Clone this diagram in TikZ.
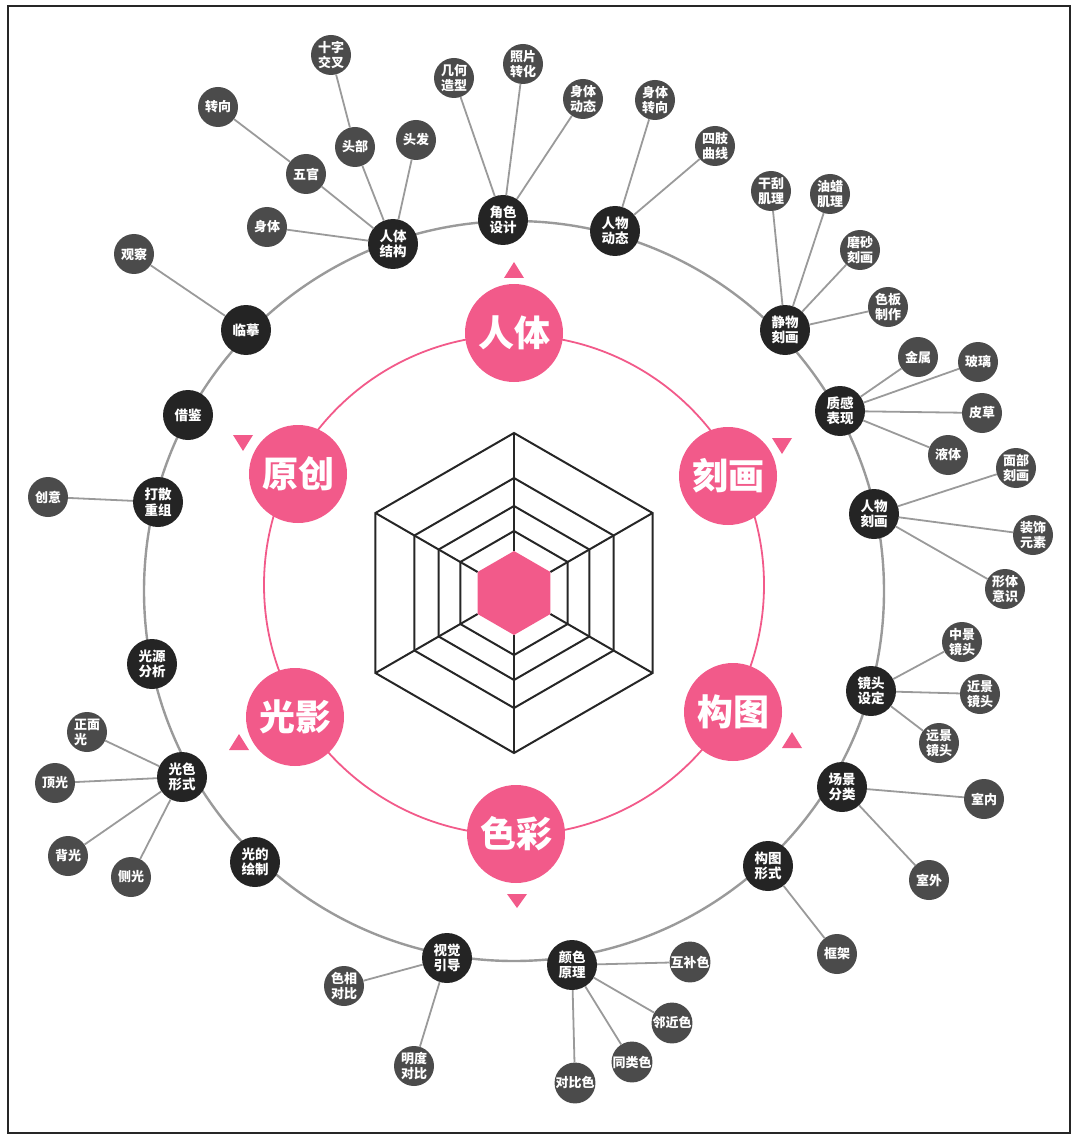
\documentclass[tikz,border=0pt]{standalone}
\usepackage{fontspec}
\newfontfamily\cjk{Noto Sans CJK SC}
\definecolor{rosy}{HTML}{F25A8A}
\definecolor{hubfill}{HTML}{242424}
\definecolor{leaffill}{HTML}{4B4B4B}
\definecolor{wire}{HTML}{9A9A9A}
\tikzset{
  topic/.style={circle,fill=rosy,minimum size=98pt,inner sep=0pt,text=white,
    font=\cjk\bfseries\fontsize{36}{40}\selectfont},
  hub/.style={circle,fill=hubfill,minimum size=50pt,inner sep=0pt,text=white,
    align=center,font=\cjk\bfseries\fontsize{13.5}{15.5}\selectfont},
  leaf/.style={circle,fill=leaffill,minimum size=40pt,inner sep=0pt,text=white,
    align=center,font=\cjk\bfseries\fontsize{13}{15}\selectfont},
  link/.style={wire,line width=1.8pt},
  web/.style={black!85,line width=2pt,line join=miter},
}
\begin{document}
\begin{tikzpicture}[x=1pt,y=-1pt]
  \useasboundingbox (0,0) rectangle (1080,1139);
  \draw[line width=2pt,black!85] (8,6) rectangle (1070,1133);

  % rings
  \draw[wire,line width=2.4pt] (514,591) circle (370);
  \draw[rosy,line width=1.8pt] (514,585) circle (250);

  % hexagon web
  \begin{scope}[shift={(514,593)}]
    \foreach \r in {160,115,87,62}
      \draw[web] (90:\r) -- (30:\r) -- (-30:\r) -- (-90:\r) -- (-150:\r) -- (150:\r) -- cycle;
    \foreach \a in {30,90,...,330}
      \draw[web] (\a:42) -- (\a:160);
    \fill[rosy] (90:42) -- (30:42) -- (-30:42) -- (-90:42) -- (-150:42) -- (150:42) -- cycle;
  \end{scope}

  % topics
  \node[topic] (renti) at (514,333) {人体};
  \node[topic] (kehua) at (728,476) {刻画};
  \node[topic] (goutu) at (733,712) {构图};
  \node[topic] (secai) at (516,834) {色彩};
  \node[topic] (guangying) at (295,717) {光影};
  \node[topic] (yuanchuang) at (298,474) {原创};
  \foreach \x/\yb/\ya in {514/278/262,782/438/454,792/748/732,517/894/908,239/750/734,243/435/451}
    \fill[rosy] ({\x-10},\yb) -- ({\x+10},\yb) -- (\x,\ya) -- cycle;

  % ring nodes
  \foreach \n/\x/\y/\t in {rtjg/393/244/人体\\结构, jsjj/503/220/角色\\设计,
      rwdt/615/231/人物\\动态, jwkh/785/330/静物\\刻画, zgbx/840/411/质感\\表现,
      rwkh/874/514/人物\\刻画, jtsd/871/691/镜头\\设定, cjfl/842/787/场景\\分类,
      gtxs/768/866/构图\\形式, ysyl/572/965/颜色\\原理, sjyd/447/958/视觉\\引导,
      gdhz/255/862/光的\\绘制, gsxs/182/777/光色\\形式, gyfx/152/664/光源\\分析,
      dscz/158/502/打散\\重组, jj/188/415/借鉴, lm/246/330/临摹}
    \node[hub] (\n) at (\x,\y) {\t};

  % leaves
  \foreach \n/\x/\y/\t in {st/267/227/身体, wg/306/174/五官, tb/355/147/头部,
      tf/416/140/头发, zx/218/107/转向, szjc/331/55/十字\\交叉,
      jhzx/454/78/几何\\造型, zpzh/523/64/照片\\转化, stdt/583/99/身体\\动态,
      stzx/655/100/身体\\转向, szqx/715/146/四肢\\曲线,
      ggjl/771/191/干刮\\肌理, yljl/830/194/油蜡\\肌理, mskh/860/250/磨砂\\刻画,
      sbzz/888/307/色板\\制作, js/918/357/金属, bl/978/362/玻璃, pc/982/413/皮草,
      yt/948/455/液体, mbkh/1016/468/面部\\刻画, zsys/1033/535/装饰\\元素,
      xtys/1005/589/形体\\意识, zjjt/962/642/中景\\镜头, jjjt/980/694/近景\\镜头,
      yjjt/939/743/远景\\镜头, sn/984/799/室内, sw/929/880/室外, kj/837/954/框架,
      hbs/690/962/互补色, ljs/672/1023/邻近色, tls/632/1062/同类色,
      dbs/575/1083/对比色, sxdb/344/986/色相\\对比, mddb/414/1066/明度\\对比,
      dg/55/783/顶光, bg/68/856/背光, cg/131/877/侧光, cy/48/497/创意, gc/134/254/观察}
    \node[leaf] (\n) at (\x,\y) {\t};
  \node[leaf,align=left] (zmg) at (87,732) {正面\\光};

  % links
  \foreach \a/\b in {rtjg/st, rtjg/wg, rtjg/tb, rtjg/tf, wg/zx, tb/szjc,
      jsjj/jhzx, jsjj/zpzh, jsjj/stdt, rwdt/stzx, rwdt/szqx,
      jwkh/ggjl, jwkh/yljl, jwkh/mskh, jwkh/sbzz,
      zgbx/js, zgbx/bl, zgbx/pc, zgbx/yt, rwkh/mbkh, rwkh/zsys, rwkh/xtys,
      jtsd/zjjt, jtsd/jjjt, jtsd/yjjt, cjfl/sn, cjfl/sw, gtxs/kj,
      ysyl/hbs, ysyl/ljs, ysyl/tls, ysyl/dbs, sjyd/sxdb, sjyd/mddb,
      gsxs/zmg, gsxs/dg, gsxs/bg, gsxs/cg, dscz/cy, lm/gc}
    \draw[link] (\a) -- (\b);
\end{tikzpicture}
\end{document}
